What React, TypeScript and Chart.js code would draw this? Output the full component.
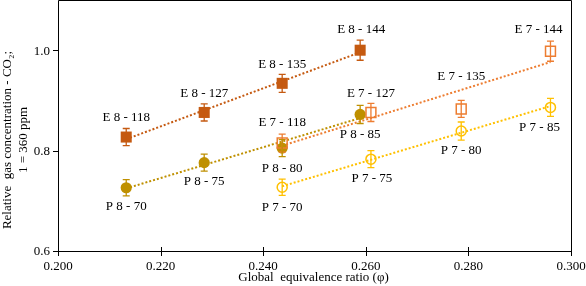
import React, { useEffect, useRef } from "react";
import { Chart, registerables } from "chart.js";

Chart.register(...registerables);

// ---- data ----
const e8X = [0.2133, 0.2285, 0.2437, 0.2589];
const e8Y = [0.827, 0.876, 0.934, 1.0];
const e8Err = [0.017, 0.017, 0.018, 0.02];
const e8Labels = ["E 8 - 118", "E 8 - 127", "E 8 - 135", "E 8 - 144"];

const p8X = [0.2133, 0.2285, 0.2437, 0.2589];
const p8Y = [0.726, 0.776, 0.805, 0.872];
const p8Err = [0.016, 0.017, 0.017, 0.018];
const p8Labels = ["P 8 - 70", "P 8 - 75", "P 8 - 80", "P 8 - 85"];

const e7X = [0.2437, 0.261, 0.2786, 0.296];
const e7Y = [0.815, 0.876, 0.883, 0.998];
const e7Err = [0.018, 0.018, 0.017, 0.02];
const e7Labels = ["E 7 - 118", "E 7 - 127", "E 7 - 135", "E 7 - 144"];

const p7X = [0.2437, 0.261, 0.2786, 0.296];
const p7Y = [0.727, 0.783, 0.839, 0.886];
const p7Err = [0.016, 0.017, 0.018, 0.018];
const p7Labels = ["P 7 - 70", "P 7 - 75", "P 7 - 80", "P 7 - 85"];

const xTicks = [0.2, 0.22, 0.24, 0.26, 0.28, 0.3];
const yTicks = [0.6, 0.8, 1.0];

const xTitle = "Global  equivalence ratio (\u03C6)";
const yTitle1 = "Relative  gas concentration - CO\u2082;";
const yTitle2 = "1 = 360 ppm";

// ---- styling (kept apart from the data) ----
const COLORS = { e8: "#C55A11", p8: "#BF9000", e7: "#ED7D31", p7: "#FFC000" };
const labelOffsets: Record<string, [number, number][]> = {
  e8: [[0, -19], [0, -19], [0, -19], [1, -21]],
  p8: [[0, 19], [0, 19], [0, 20], [0, 20]],
  e7: [[0, -20], [0, -19], [0, -32], [-12, -22]],
  p7: [[0, 20], [1, 19], [0, 20], [-11, 20]],
};
const FONT = "'Liberation Serif', 'Times New Roman', serif";

function regression(xs: number[], ys: number[]) {
  const n = xs.length;
  const mx = xs.reduce((a, b) => a + b, 0) / n;
  const my = ys.reduce((a, b) => a + b, 0) / n;
  let sxy = 0, sxx = 0;
  for (let i = 0; i < n; i++) {
    sxy += (xs[i] - mx) * (ys[i] - my);
    sxx += (xs[i] - mx) ** 2;
  }
  const m = sxy / sxx;
  const b = my - m * mx;
  const x0 = Math.min(...xs), x1 = Math.max(...xs);
  return [{ x: x0, y: m * x0 + b }, { x: x1, y: m * x1 + b }];
}

const series = [
  { key: "e8", xs: e8X, ys: e8Y, err: e8Err, labels: e8Labels, style: "rect", fill: true, radius: 7.8, order: 1 },
  { key: "e7", xs: e7X, ys: e7Y, err: e7Err, labels: e7Labels, style: "rect", fill: false, radius: 7, order: 2 },
  { key: "p8", xs: p8X, ys: p8Y, err: p8Err, labels: p8Labels, style: "circle", fill: true, radius: 5.6, order: 3 },
  { key: "p7", xs: p7X, ys: p7Y, err: p7Err, labels: p7Labels, style: "circle", fill: false, radius: 5, order: 4 },
];

const extrasPlugin = {
  id: "extras",
  afterDatasetsDraw(chart: any) {
    const ctx = chart.ctx;
    const xs = chart.scales.x;
    const ys = chart.scales.y;
    const area = chart.chartArea;
    ctx.save();
    // error bars
    series.forEach((s) => {
      ctx.strokeStyle = (COLORS as any)[s.key];
      ctx.lineWidth = 1.3;
      s.xs.forEach((xv, i) => {
        const px = xs.getPixelForValue(xv);
        const top = ys.getPixelForValue(s.ys[i] + s.err[i]);
        const bot = ys.getPixelForValue(s.ys[i] - s.err[i]);
        ctx.beginPath();
        ctx.moveTo(px, top);
        ctx.lineTo(px, bot);
        ctx.moveTo(px - 3.5, top);
        ctx.lineTo(px + 3.5, top);
        ctx.moveTo(px - 3.5, bot);
        ctx.lineTo(px + 3.5, bot);
        ctx.stroke();
      });
    });
    // labels
    ctx.fillStyle = "#000";
    ctx.font = `13px ${FONT}`;
    ctx.textAlign = "center";
    ctx.textBaseline = "middle";
    series.forEach((s) => {
      s.xs.forEach((xv, i) => {
        const px = xs.getPixelForValue(xv);
        const py = ys.getPixelForValue(s.ys[i]);
        const [dx, dy] = labelOffsets[s.key][i];
        ctx.fillText(s.labels[i], px + dx, py + dy);
      });
    });
    // frame
    ctx.strokeStyle = "#000";
    ctx.lineWidth = 1;
    ctx.beginPath();
    ctx.moveTo(Math.round(area.left) + 0.5, Math.round(area.top) + 0.5);
    ctx.lineTo(Math.round(area.right) + 0.5, Math.round(area.top) + 0.5);
    ctx.lineTo(Math.round(area.right) + 0.5, Math.round(area.bottom) + 0.5);
    ctx.lineTo(Math.round(area.left) + 0.5, Math.round(area.bottom) + 0.5);
    ctx.closePath();
    ctx.stroke();
    // tick marks
    ctx.beginPath();
    xTicks.forEach((v) => {
      const px = Math.round(xs.getPixelForValue(v)) + 0.5;
      ctx.moveTo(px, area.bottom - 4);
      ctx.lineTo(px, area.bottom + 5);
    });
    yTicks.forEach((v) => {
      const py = Math.round(ys.getPixelForValue(v)) + 0.5;
      ctx.moveTo(area.left - 5, py);
      ctx.lineTo(area.left, py);
    });
    ctx.stroke();
    // y tick labels
    ctx.fillStyle = "#000";
    ctx.font = `13px ${FONT}`;
    ctx.textAlign = "right";
    ctx.textBaseline = "middle";
    yTicks.forEach((v) => {
      ctx.fillText(v.toFixed(1), area.left - 8, ys.getPixelForValue(v) + 1);
    });
    // axis titles
    ctx.textAlign = "center";
    ctx.fillText(xTitle, (area.left + area.right) / 2 - 1, 278);
    ctx.save();
    ctx.translate(8, 140);
    ctx.rotate(-Math.PI / 2);
    ctx.fillText(yTitle1, 0, 0);
    ctx.restore();
    ctx.save();
    ctx.translate(24, 140);
    ctx.rotate(-Math.PI / 2);
    ctx.fillText(yTitle2, 0, 0);
    ctx.restore();
    ctx.restore();
  },
};

export default function App() {
  const ref = useRef<HTMLCanvasElement>(null);
  useEffect(() => {
    document.body.style.margin = "0";
    const datasets: any[] = [];
    series.forEach((s) => {
      const color = (COLORS as any)[s.key];
      datasets.push({
        type: "line",
        data: regression(s.xs, s.ys),
        borderColor: color,
        borderWidth: 2,
        borderDash: [2, 2],
        pointRadius: 0,
        fill: false,
        order: 10,
      });
      datasets.push({
        type: "scatter",
        data: s.xs.map((x, i) => ({ x, y: s.ys[i] })),
        pointStyle: s.style,
        pointRadius: s.radius,
        pointBackgroundColor: s.fill ? color : "rgba(0,0,0,0)",
        pointBorderColor: color,
        pointBorderWidth: s.fill ? 0 : 1.5,
        order: s.order,
      });
    });
    const chart = new Chart(ref.current!, {
      type: "scatter",
      data: { datasets },
      options: {
        animation: false,
        responsive: false,
        layout: { autoPadding: false, padding: { top: 0, right: 15, left: 0, bottom: 0 } },
        plugins: { legend: { display: false }, tooltip: { enabled: false } },
        scales: {
          x: {
            type: "linear",
            min: 0.2,
            max: 0.3,
            grid: { display: false, drawTicks: false },
            border: { display: false },
            afterBuildTicks: (scale: any) => {
              scale.ticks = xTicks.map((v) => ({ value: v }));
            },
            afterFit: (scale: any) => {
              scale.height = 35;
              scale.paddingLeft = 0;
              scale.paddingRight = 0;
            },
            ticks: {
              padding: 8,
              color: "#000",
              font: { family: FONT, size: 13 },
              callback: (v: any) => Number(v).toFixed(3),
              maxRotation: 0,
            },
          },
          y: {
            type: "linear",
            min: 0.6,
            max: 1.1,
            grid: { display: false, drawTicks: false },
            border: { display: false },
            ticks: { display: false },
            afterFit: (scale: any) => {
              scale.width = 58;
              scale.paddingTop = 0;
              scale.paddingBottom = 0;
            },
          },
        },
      },
      plugins: [extrasPlugin],
    });
    return () => chart.destroy();
  }, []);
  return <canvas ref={ref} width={586} height={286} style={{ display: "block" }} />;
}
